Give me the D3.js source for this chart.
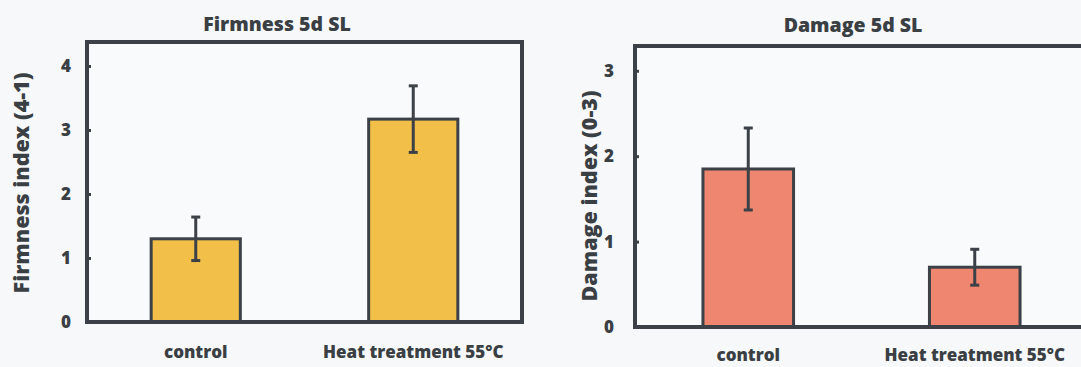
<!DOCTYPE html>
<html><head><meta charset="utf-8">
<script src="https://cdn.jsdelivr.net/npm/d3@7"></script>
<style>
html,body{margin:0;padding:0;background:#f6f8fa;}
svg{display:block;}
text{font-family:"Open Sans",sans-serif;font-weight:800;fill:#3a3f44;}
</style></head>
<body>
<svg id="c" width="1081" height="367"></svg>
<script>
const categories = ["control", "Heat treatment 55°C"];
const firmnessValues = [1.30, 3.17];
const firmnessErrors = [0.34, 0.52];
const damageValues = [1.85, 0.70];
const damageErrors = [0.48, 0.21];
const firmnessTicks = [0, 1, 2, 3, 4];
const damageTicks = [0, 1, 2, 3];

const svg = d3.select("#c");
const ink = "#3b4147";

function panel(o) {
  const g = svg.append("g");
  const x = d3.scalePoint().domain(categories).range([o.left, o.right]).padding(0.5);
  const y = d3.scaleLinear().domain([0, o.ymax]).range([o.bottom, o.top]);
  const bw = x.step() * o.barFrac;
  const data = categories.map((c, i) => ({c, v: o.values[i], e: o.errors[i]}));

  g.append("rect").attr("x", o.left).attr("y", o.top)
    .attr("width", o.right - o.left).attr("height", o.bottom - o.top)
    .attr("fill", "#f9fafb").attr("stroke", "none");

  g.selectAll(".bar").data(data).join("rect")
    .attr("x", d => x(d.c) - bw / 2).attr("width", bw)
    .attr("y", d => y(d.v)).attr("height", d => y(0) - y(d.v))
    .attr("fill", o.color).attr("stroke", ink).attr("stroke-width", 3);

  const eg = g.selectAll(".err").data(data).join("g").attr("stroke", ink).attr("stroke-width", 3);
  eg.append("line").attr("x1", d => x(d.c)).attr("x2", d => x(d.c))
    .attr("y1", d => y(d.v + d.e)).attr("y2", d => y(d.v - d.e));
  eg.append("line").attr("x1", d => x(d.c) - 4.5).attr("x2", d => x(d.c) + 4.5)
    .attr("y1", d => y(d.v + d.e)).attr("y2", d => y(d.v + d.e));
  eg.append("line").attr("x1", d => x(d.c) - 4.5).attr("x2", d => x(d.c) + 4.5)
    .attr("y1", d => y(d.v - d.e)).attr("y2", d => y(d.v - d.e));

  g.append("rect").attr("x", o.left).attr("y", o.top)
    .attr("width", o.right - o.left).attr("height", o.bottom - o.top)
    .attr("fill", "none").attr("stroke", ink).attr("stroke-width", 4);

  const ax = g.append("g").attr("transform", `translate(${o.left},0)`)
    .call(d3.axisLeft(y).tickValues(o.ticks).tickFormat(d3.format("d"))
      .tickSizeInner(-4).tickSizeOuter(0).tickPadding(o.tickPad));
  ax.select(".domain").remove();
  ax.selectAll(".tick line").attr("stroke", ink).attr("stroke-width", 3);
  ax.selectAll(".tick text").attr("font-size", 17).attr("fill", "#3a3f44")
    .style("font-family", "'Open Sans', sans-serif").style("font-weight", 800);

  g.selectAll(".xl").data(categories).join("text")
    .attr("x", d => x(d)).attr("y", o.xLabelY).attr("text-anchor", "middle")
    .attr("font-size", 17).text(d => d);

  g.append("text").attr("x", o.titleX).attr("y", o.titleY).attr("text-anchor", "middle")
    .attr("font-size", 19.5).text(o.title);

  g.append("text").attr("transform", `translate(${o.yTitleX},${o.yTitleY}) rotate(-90)`)
    .attr("text-anchor", "middle").attr("font-size", 21.5).text(o.yTitle);
}

panel({left: 87, right: 522, top: 42, bottom: 322, ymax: 4.375,
  values: firmnessValues, errors: firmnessErrors, ticks: firmnessTicks,
  color: "#f2bf48", barFrac: 0.41, tickPad: 16, xLabelY: 358,
  title: "Firmness 5d SL", titleX: 277, titleY: 31,
  yTitle: "Firmness index (4-1)", yTitleX: 29, yTitleY: 183});

panel({left: 635, right: 1088, top: 46, bottom: 327, ymax: 3.29,
  values: damageValues, errors: damageErrors, ticks: damageTicks,
  color: "#ee8670", barFrac: 0.40, tickPad: 21, xLabelY: 361,
  title: "Damage 5d SL", titleX: 853, titleY: 32,
  yTitle: "Damage index (0-3)", yTitleX: 597, yTitleY: 196});
</script>
</body></html>
